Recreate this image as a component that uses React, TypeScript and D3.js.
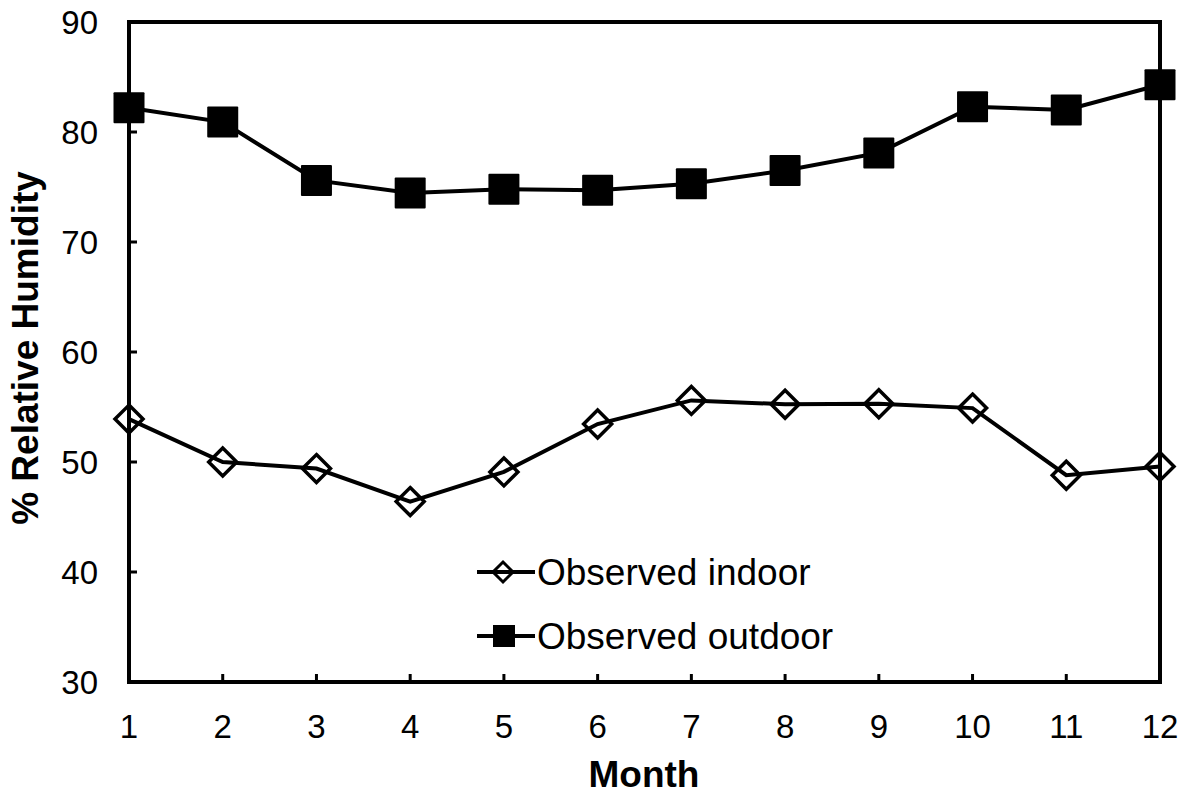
import React from "react";
import * as d3 from "d3";

const months = [1, 2, 3, 4, 5, 6, 7, 8, 9, 10, 11, 12];
const indoor = [53.9, 50.0, 49.4, 46.4, 49.1, 53.45, 55.6, 55.25, 55.3, 54.9, 48.8, 49.6];
const outdoor = [82.2, 80.9, 75.6, 74.45, 74.8, 74.7, 75.3, 76.5, 78.1, 82.3, 82.0, 84.3];
const yTicks = [30, 40, 50, 60, 70, 80, 90];
const seriesNames = ["Observed indoor", "Observed outdoor"];

const W = 1199, H = 796;
const L = 129, R = 1160, T = 22, B = 682;
const FONT = "'Liberation Sans', Arial, sans-serif";

export default function App() {
  const x = d3.scaleLinear().domain([1, 12]).range([L, R]);
  const y = d3.scaleLinear().domain([30, 90]).range([B, T]);
  const line = d3.line<number>().x((_, i) => x(months[i])).y((d) => y(d));
  const sq = 31;
  const dm = 14;
  const diamond = (cx: number, cy: number, r: number) =>
    `M${cx},${cy - r}L${cx + r},${cy}L${cx},${cy + r}L${cx - r},${cy}Z`;

  return (
    <svg width={W} height={H} style={{ position: "absolute", left: 0, top: 0, background: "#fff" }}>
      <rect x={0} y={0} width={W} height={H} fill="#fff" />
      {yTicks.map((t) => (
        <g key={"y" + t}>
          <line x1={L} x2={L + 8} y1={y(t)} y2={y(t)} stroke="#000" strokeWidth={3} />
          <text x={98} y={y(t) + 12} textAnchor="end" fontFamily={FONT} fontSize={33}>{t}</text>
        </g>
      ))}
      {months.map((m) => (
        <g key={"x" + m}>
          <line x1={x(m)} x2={x(m)} y1={B} y2={B - 8} stroke="#000" strokeWidth={3} />
          <text x={x(m)} y={738} textAnchor="middle" fontFamily={FONT} fontSize={33}>{m}</text>
        </g>
      ))}
      <rect x={L} y={T} width={R - L} height={B - T} fill="none" stroke="#000" strokeWidth={4} />
      <path d={line(outdoor) || ""} fill="none" stroke="#000" strokeWidth={4} />
      {outdoor.map((v, i) => (
        <rect key={"o" + i} x={x(months[i]) - sq / 2} y={y(v) - sq / 2} width={sq} height={sq} fill="#000" rx={1} />
      ))}
      <path d={line(indoor) || ""} fill="none" stroke="#000" strokeWidth={4} />
      {indoor.map((v, i) => (
        <path key={"i" + i} d={diamond(x(months[i]), y(v), dm)} fill="none" stroke="#000" strokeWidth={3.5} />
      ))}
      {/* legend */}
      <line x1={477} x2={535} y1={572} y2={572} stroke="#000" strokeWidth={4} />
      <path d={diamond(503, 572, 10)} fill="none" stroke="#000" strokeWidth={3} />
      <text x={537} y={585} fontFamily={FONT} fontSize={37}>{seriesNames[0]}</text>
      <line x1={477} x2={535} y1={636} y2={636} stroke="#000" strokeWidth={4} />
      <rect x={504 - 11} y={636 - 11} width={22} height={22} fill="#000" />
      <text x={537} y={649} fontFamily={FONT} fontSize={37}>{seriesNames[1]}</text>
      <text x={644} y={787} textAnchor="middle" fontFamily={FONT} fontSize={37} fontWeight="bold">Month</text>
      <text transform="translate(38,348) rotate(-90)" textAnchor="middle" fontFamily={FONT} fontSize={37} fontWeight="bold">% Relative Humidity</text>
    </svg>
  );
}
